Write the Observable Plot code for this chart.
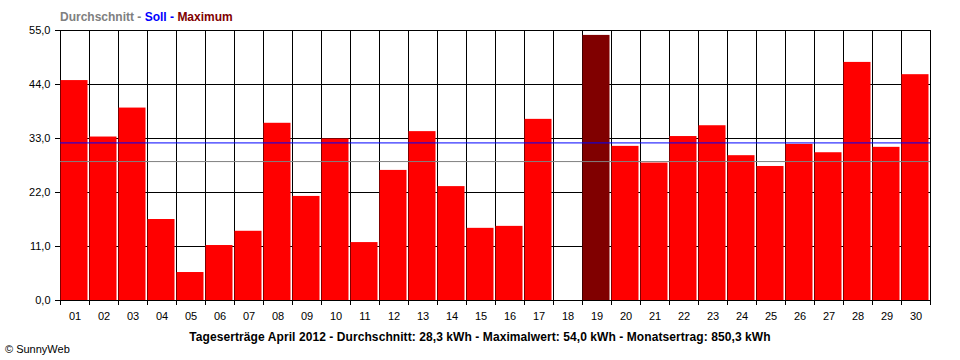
<!DOCTYPE html>
<html><head><meta charset="utf-8">
<script src="https://cdn.jsdelivr.net/npm/d3@7"></script>
<script src="https://cdn.jsdelivr.net/npm/@observablehq/plot@0.6"></script>
<style>
body{margin:0;background:#fff;}
#wrap{position:relative;width:960px;height:360px;font-family:"Liberation Sans",Arial,sans-serif;color:#000;}
.t{position:absolute;white-space:nowrap;line-height:1;}
</style></head><body><div id="wrap"></div>
<script>
const days = ["01","02","03","04","05","06","07","08","09","10","11","12","13","14","15","16","17","18","19","20","21","22","23","24","25","26","27","28","29","30"];
const values = [44.8,33.3,39.2,16.5,5.7,11.2,14.1,36.1,21.2,32.9,11.8,26.5,34.4,23.2,14.7,15.1,36.9,0,54.0,31.4,28.0,33.4,35.6,29.5,27.3,31.8,30.1,48.5,31.2,46.0];
const average = 28.3;
const target = 32.1;
const maximum = 54.0;
const yTicks = [0,11,22,33,44,55];
const titleParts = [["Durchschnitt","#808080"],[" - ","#808080"],["Soll","#0000FF"],[" - ","#0000FF"],["Maximum","#800000"]];
const caption = "Tageserträge April 2012 - Durchschnitt: 28,3 kWh - Maximalwert: 54,0 kWh - Monatsertrag: 850,3 kWh";
const copyright = "© SunnyWeb";

const table = days.map((d, i) => ({day: d, n: i + 1, value: values[i]}));
const bounds = [0, ...days.map((d, i) => i + 1)].map(n => n + 0.5);
const fmt = v => v.toFixed(1).replace(".", ",");

const chart = Plot.plot({
  width: 960, height: 360,
  marginLeft: 60, marginRight: 30, marginTop: 30, marginBottom: 60,
  style: {fontFamily: '"Liberation Sans", Arial, sans-serif', fontSize: "11px", color: "#000", background: "#fff"},
  x: {type: "linear", domain: [0.5, days.length + 0.5]},
  y: {domain: [0, 55]},
  color: {type: "identity"},
  marks: [
    Plot.ruleY(yTicks, {stroke: "#000", strokeWidth: 1}),
    Plot.ruleX(bounds, {stroke: "#000", strokeWidth: 1}),
    Plot.rectY(table, {
      x1: d => d.n - 0.5, x2: d => d.n + 0.5, y1: 0, y2: "value",
      fill: d => d.value === maximum ? "#800000" : "#FF0000",
      insetLeft: 0.5, insetRight: 1.5
    }),
    Plot.ruleY([0], {stroke: "#000", strokeWidth: 1}),
    Plot.ruleY([target], {stroke: "#0000FF", strokeWidth: 1}),
    Plot.ruleY([average], {stroke: "#808080", strokeWidth: 1}),
    Plot.axisY({ticks: yTicks, tickFormat: fmt, tickSize: 5, tickPadding: 5, label: null, fontSize: 11}),
    Plot.axisX({ticks: bounds, tickFormat: () => "", tickSize: 5, label: null}),
    Plot.axisX({ticks: table.map(d => d.n), tickFormat: n => days[n - 1], tickSize: 0, tickPadding: 12, label: null, fontSize: 11})
  ]
});
const wrap = document.getElementById("wrap");
wrap.appendChild(chart);

const title = document.createElement("div");
title.className = "t";
title.style.cssText = "left:60px;top:11px;font-weight:bold;font-size:12px;";
for (const [txt, col] of titleParts) {
  const s = document.createElement("span");
  s.textContent = txt; s.style.color = col;
  title.appendChild(s);
}
wrap.appendChild(title);

const cap = document.createElement("div");
cap.className = "t";
cap.style.cssText = "left:0;width:960px;text-align:center;top:331px;font-weight:bold;font-size:12px;letter-spacing:0.08px;";
cap.textContent = caption;
wrap.appendChild(cap);

const cr = document.createElement("div");
cr.className = "t";
cr.style.cssText = "left:5px;top:344px;font-size:11px;";
cr.textContent = copyright;
wrap.appendChild(cr);
</script></body></html>
